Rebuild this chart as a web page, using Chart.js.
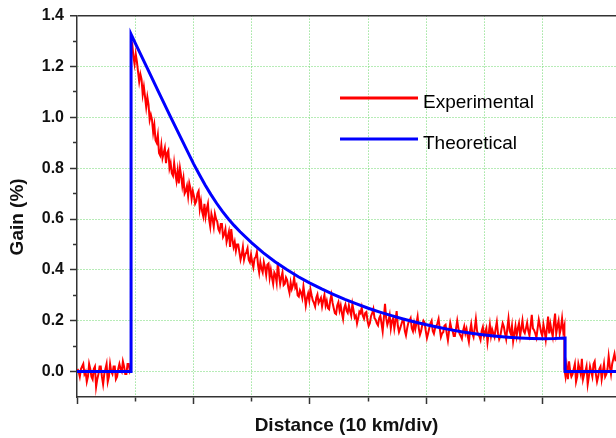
<!DOCTYPE html>
<html>
<head>
<meta charset="utf-8">
<title>Gain vs distance</title>
<script src="https://cdn.jsdelivr.net/npm/chart.js@4.4.1/dist/chart.umd.min.js"></script>
<style>
  html, body { margin: 0; padding: 0; background: #fff; }
  #chart { display: block; }
</style>
</head>
<body>
<canvas id="chart" width="616" height="438"></canvas>
<script>
// Gain (%) against distance, x is in divisions (10 km/div)
const seriesNames = ['Experimental', 'Theoretical'];
const seriesColors = ['#ff0000', '#0000ff'];

const xRange = [0, 4.627];
const yRange = [-0.1, 1.4];

// theoretical curve
const theoX = [0, 0.464, 0.464, 0.5, 0.6, 0.7, 0.8, 0.9, 1.0, 1.05, 1.1, 1.15, 1.2, 1.25, 1.3, 1.35,
  1.4, 1.5, 1.6, 1.7, 1.8, 1.9, 2.0, 2.1, 2.2, 2.3, 2.4, 2.5, 2.6, 2.7, 2.8, 2.9, 3.0,
  3.1, 3.2, 3.3, 3.4, 3.5, 3.6, 3.7, 3.8, 3.9, 4.0, 4.1, 4.19, 4.19, 4.627];
const theoY = [0, 0, 1.327, 1.292, 1.196, 1.100, 1.005, 0.911, 0.818, 0.775, 0.734, 0.696, 0.661, 0.629, 0.600, 0.574,
  0.550, 0.506, 0.467, 0.432, 0.401, 0.373, 0.348, 0.325, 0.304, 0.284, 0.266, 0.249, 0.234, 0.220, 0.207, 0.195, 0.184,
  0.174, 0.165, 0.157, 0.150, 0.144, 0.139, 0.135, 0.132, 0.130, 0.129, 0.130, 0.132, 0, 0];

// measured trace, one sample every 0.01 div, in three stretches
const sampleStep = 0.01;
const segmentStart = [0.004, 0.464, 4.184];
const expBefore = [
  0.01, 0.00, -0.02, 0.01, 0.02, 0.03, -0.01, 0.00, -0.04, -0.02,
  0.03, 0.01, -0.02, -0.03, 0.01, 0.02, -0.06, -0.03, -0.01, 0.02,
  0.02, -0.02, -0.05, -0.01, 0.01, 0.03, -0.04, -0.02, 0.03, 0.00,
  -0.01, 0.02, 0.02, -0.03, -0.02, 0.01, 0.03, 0.01, 0.00, 0.04,
  0.02, -0.01, -0.01, 0.03, 0.03, 0.00, 0.01
];
const expDecay = [
  1.30, 1.29, 1.24, 1.21, 1.25, 1.22, 1.18, 1.14, 1.17, 1.15, 1.09, 1.12, 1.08, 1.04, 1.08, 1.05, 0.99, 1.01, 0.99, 0.94,
  0.97, 0.91, 0.90, 0.93, 0.86, 0.85, 0.89, 0.84, 0.86, 0.88, 0.82, 0.86, 0.87, 0.80, 0.82, 0.78, 0.77, 0.82, 0.78, 0.75,
  0.79, 0.74, 0.80, 0.77, 0.73, 0.76, 0.70, 0.71, 0.73, 0.69, 0.74, 0.72, 0.68, 0.71, 0.69, 0.66, 0.67, 0.70, 0.71, 0.64,
  0.67, 0.63, 0.61, 0.66, 0.61, 0.64, 0.66, 0.60, 0.57, 0.62, 0.60, 0.57, 0.62, 0.60, 0.59, 0.56, 0.55, 0.58, 0.58, 0.53,
  0.54, 0.56, 0.51, 0.53, 0.55, 0.49, 0.56, 0.52, 0.49, 0.51, 0.475, 0.50, 0.50, 0.47, 0.44, 0.46, 0.49, 0.44, 0.46, 0.47,
  0.485, 0.44, 0.43, 0.46, 0.43, 0.41, 0.445, 0.45, 0.47, 0.42, 0.39, 0.43, 0.405, 0.39, 0.43, 0.41, 0.38, 0.42, 0.425, 0.37,
  0.40, 0.37, 0.345, 0.39, 0.38, 0.35, 0.43, 0.38, 0.345, 0.37, 0.39, 0.34, 0.345, 0.37, 0.36, 0.33, 0.31, 0.35, 0.325, 0.34,
  0.37, 0.33, 0.34, 0.30, 0.295, 0.32, 0.31, 0.29, 0.335, 0.30, 0.26, 0.29, 0.307, 0.28, 0.323, 0.30, 0.28, 0.27, 0.256, 0.29,
  0.303, 0.27, 0.28, 0.29, 0.256, 0.28, 0.302, 0.26, 0.278, 0.25, 0.245, 0.28, 0.302, 0.27, 0.249, 0.23, 0.226, 0.26, 0.273, 0.24,
  0.26, 0.23, 0.207, 0.25, 0.264, 0.24, 0.231, 0.26, 0.238, 0.22, 0.265, 0.24, 0.212, 0.22, 0.189, 0.21, 0.236, 0.23, 0.252, 0.22,
  0.208, 0.23, 0.234, 0.20, 0.18, 0.19, 0.218, 0.23, 0.246, 0.21, 0.204, 0.19, 0.182, 0.21, 0.22, 0.19, 0.158, 0.21, 0.266, 0.21,
  0.184, 0.20, 0.222, 0.17, 0.20, 0.21, 0.169, 0.20, 0.238, 0.18, 0.156, 0.17, 0.185, 0.20, 0.204, 0.16, 0.142, 0.17, 0.191, 0.20,
  0.21, 0.17, 0.158, 0.19, 0.167, 0.19, 0.216, 0.17, 0.145, 0.16, 0.184, 0.20, 0.193, 0.16, 0.132, 0.15, 0.171, 0.19, 0.20, 0.16,
  0.149, 0.17, 0.178, 0.19, 0.207, 0.17, 0.136, 0.15, 0.155, 0.18, 0.184, 0.15, 0.123, 0.16, 0.192, 0.17, 0.161, 0.14, 0.14, 0.17,
  0.20, 0.17, 0.149, 0.14, 0.129, 0.16, 0.178, 0.15, 0.168, 0.14, 0.117, 0.16, 0.187, 0.15, 0.136, 0.17, 0.206, 0.16, 0.145, 0.14,
  0.125, 0.16, 0.175, 0.14, 0.155, 0.17, 0.115, 0.15, 0.185, 0.14, 0.166, 0.15, 0.136, 0.17, 0.196, 0.15, 0.127, 0.14, 0.167, 0.19,
  0.177, 0.15, 0.128, 0.17, 0.208, 0.16, 0.148, 0.18, 0.119, 0.15, 0.179, 0.14, 0.17, 0.19, 0.14, 0.17, 0.201, 0.16, 0.151, 0.17,
  0.192, 0.16, 0.142, 0.18, 0.223, 0.17, 0.163, 0.15, 0.134, 0.17, 0.204, 0.18, 0.155, 0.14, 0.185, 0.16, 0.126, 0.17, 0.216, 0.15,
  0.187, 0.16, 0.137, 0.19, 0.228, 0.15, 0.178, 0.20, 0.149, 0.17, 0.209, 0.16, 0.18
];
const expAfter = [
  0.01, -0.02, 0.02, -0.03, 0.04, 0.00, -0.02, -0.01, 0.01, 0.03,
  -0.04, -0.02, 0.03, 0.01, -0.01, 0.05, -0.03, -0.01, 0.00, 0.02,
  -0.05, -0.02, 0.02, 0.00, -0.02, 0.03, 0.04, -0.01, -0.04, -0.02,
  0.01, 0.02, -0.03, 0.00, 0.03, -0.02, -0.01, 0.01, 0.06, 0.02,
  -0.01, 0.03, 0.05, 0.07, 0.04
];

const expPoints = [];
[expBefore, expDecay, expAfter].forEach((seg, s) => {
  seg.forEach((v, i) => expPoints.push({ x: segmentStart[s] + i * sampleStep, y: v }));
});
const theoPoints = theoX.map((x, i) => ({ x: x, y: theoY[i] }));

const gridGreen = '#6fd86f';
const axisColor = '#333';
const none = 'rgba(0,0,0,0)';
const fontFamily = '"Liberation Sans", Arial, sans-serif';

const near = (a, b) => Math.abs(a - b) < 1e-6;
const isMajorY = v => Math.round(v * 10) % 2 === 0;
const onHalf = v => Math.abs(v * 2 - Math.round(v * 2)) < 1e-6;
const isMajorX = v => onHalf(v) && Math.round(v * 2) % 2 === 0;

// legend drawn inside the plot
const insideLegend = {
  id: 'insideLegend',
  afterDatasetsDraw(chart, args, opts) {
    const ctx = chart.ctx;
    ctx.save();
    ctx.font = opts.font;
    ctx.textBaseline = 'middle';
    ctx.textAlign = 'left';
    chart.data.datasets.forEach((ds, i) => {
      const y = opts.top + i * opts.rowGap;
      ctx.strokeStyle = ds.borderColor;
      ctx.lineWidth = opts.lineWidth;
      ctx.beginPath();
      ctx.moveTo(opts.left, y);
      ctx.lineTo(opts.left + opts.lineLength, y);
      ctx.stroke();
      ctx.fillStyle = '#000';
      ctx.fillText(ds.label, opts.left + opts.lineLength + opts.gap, y + opts.textShift);
    });
    ctx.restore();
  }
};

new Chart(document.getElementById('chart'), {
  type: 'line',
  data: {
    datasets: [
      {
        label: seriesNames[0],
        data: expPoints,
        borderColor: seriesColors[0],
        backgroundColor: seriesColors[0],
        borderWidth: 2,
        pointRadius: 0,
        tension: 0,
        order: 1
      },
      {
        label: seriesNames[1],
        data: theoPoints,
        borderColor: seriesColors[1],
        backgroundColor: seriesColors[1],
        borderWidth: 3,
        pointRadius: 0,
        tension: 0,
        order: 0
      }
    ]
  },
  options: {
    responsive: false,
    animation: false,
    devicePixelRatio: 1,
    layout: { padding: { top: 15, right: 0, bottom: 0, left: 0 } },
    plugins: {
      legend: { display: false },
      tooltip: { enabled: false },
      insideLegend: {
        left: 340, top: 98, rowGap: 41, lineLength: 78, gap: 5, textShift: 5, lineWidth: 3,
        font: '19px ' + fontFamily
      }
    },
    scales: {
      x: {
        type: 'linear',
        min: xRange[0],
        max: xRange[1],
        afterFit: s => { s.height = 41; },
        ticks: { display: false, stepSize: 0.5, autoSkip: false },
        grid: {
          color: c => (c.tick && onHalf(c.tick.value) && c.tick.value > 0.01) ? gridGreen : none,
          lineWidth: 1,
          tickLength: 7,
          tickWidth: 1.5,
          tickColor: c => (c.tick && onHalf(c.tick.value)) ? axisColor : none,
          tickBorderDash: c => (c.tick && isMajorX(c.tick.value)) ? [] : [4, 20]
        },
        border: {
          color: axisColor,
          width: 1.5,
          dash: c => c.tick ? [1, 2] : []
        },
        title: {
          display: true,
          text: 'Distance (10 km/div)',
          color: '#111',
          font: { family: fontFamily, size: 19, weight: 'bold' },
          padding: { top: 0, bottom: 1 }
        }
      },
      y: {
        type: 'linear',
        min: yRange[0],
        max: yRange[1],
        afterFit: s => { s.width = 77; },
        ticks: {
          stepSize: 0.1,
          autoSkip: false,
          padding: 6,
          color: '#111',
          font: { family: fontFamily, size: 16, weight: 'bold' },
          callback: v => (v > -0.05 && isMajorY(v)) ? v.toFixed(1) : ''
        },
        grid: {
          color: c => {
            if (!c.tick) return none;
            const v = c.tick.value;
            if (near(v, yRange[1])) return axisColor;
            return (v > -0.05 && isMajorY(v)) ? gridGreen : none;
          },
          lineWidth: c => (c.tick && near(c.tick.value, yRange[1])) ? 1.5 : 1,
          tickLength: 7,
          tickWidth: 1.5,
          tickColor: c => (c.tick && c.tick.value > -0.05) ? axisColor : none,
          tickBorderDash: c => (c.tick && isMajorY(c.tick.value)) ? [] : [0, 3, 4, 20]
        },
        border: {
          color: axisColor,
          width: 1.5,
          dash: c => (c.tick && !near(c.tick.value, yRange[1])) ? [1, 2] : []
        },
        title: {
          display: true,
          text: 'Gain (%)    ',
          color: '#111',
          font: { family: fontFamily, size: 19, weight: 'bold' },
          padding: { top: 6, bottom: 0 }
        }
      }
    }
  },
  plugins: [insideLegend]
});
</script>
</body>
</html>
